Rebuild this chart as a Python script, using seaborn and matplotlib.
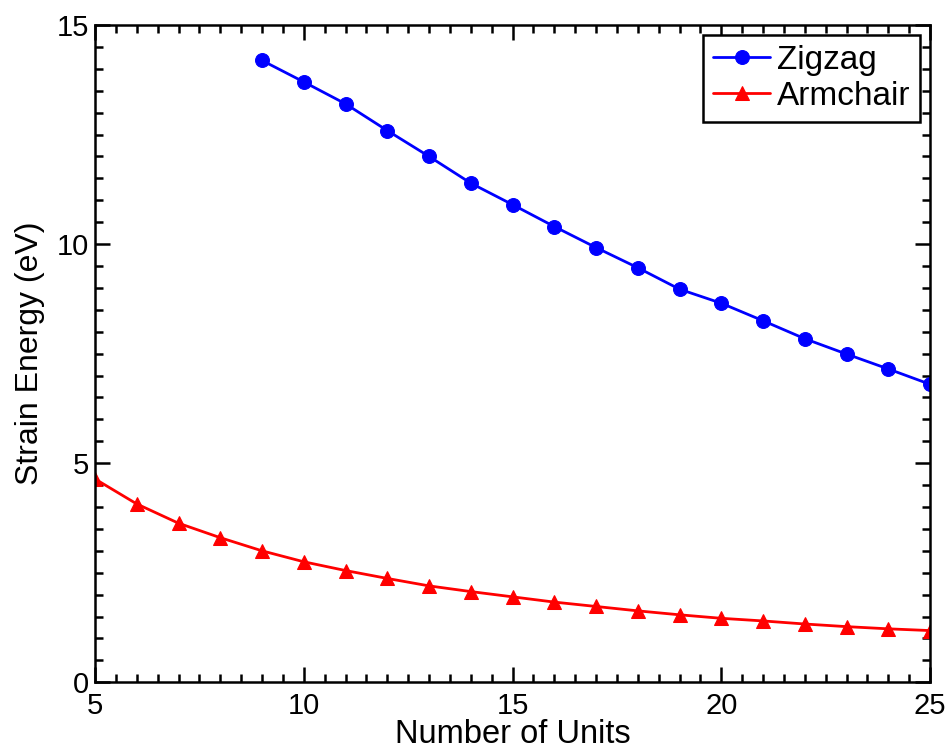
import numpy as np
import pandas as pd
import matplotlib
matplotlib.use("Agg")
import matplotlib.pyplot as plt
import seaborn as sns
from matplotlib.ticker import MultipleLocator

# -------------------------------
# Data
# -------------------------------
zigzag_units = [9, 10, 11, 12, 13, 14, 15, 16, 17, 18, 19, 20, 21, 22, 23, 24, 25]
zigzag_energy = [14.19, 13.70, 13.20, 12.59, 12.00, 11.39, 10.90, 10.40, 9.92,
                 9.46, 8.97, 8.65, 8.25, 7.84, 7.49, 7.15, 6.80]

armchair_units = list(range(5, 26))
armchair_energy = [4.64, 4.07, 3.63, 3.30, 3.00, 2.75, 2.55, 2.37, 2.20, 2.07,
                   1.95, 1.83, 1.73, 1.63, 1.54, 1.46, 1.40, 1.33, 1.27, 1.22, 1.18]

zig = pd.DataFrame({"Units": zigzag_units, "Energy": zigzag_energy})
arm = pd.DataFrame({"Units": armchair_units, "Energy": armchair_energy})

# -------------------------------
# Style
# -------------------------------
sns.set_style("ticks")
plt.rcParams["font.family"] = ["Liberation Sans", "DejaVu Sans"]
plt.rcParams["text.color"] = "black"
plt.rcParams["axes.labelcolor"] = "black"
plt.rcParams["xtick.color"] = "black"
plt.rcParams["ytick.color"] = "black"

fig = plt.figure(figsize=(9.5, 7.56), dpi=100)
ax = fig.add_axes([0.1, 0.0975, 0.879, 0.8695])

sns.lineplot(data=zig, x="Units", y="Energy", ax=ax, color="#0000ff",
             marker="o", markersize=10, markeredgecolor="#0000ff",
             linewidth=2, label="Zigzag")
sns.lineplot(data=arm, x="Units", y="Energy", ax=ax, color="#ff0000",
             marker="^", markersize=10, markeredgecolor="#ff0000",
             linewidth=2, label="Armchair")

ax.set_xlim(5, 25)
ax.set_ylim(0, 15)
ax.xaxis.set_major_locator(MultipleLocator(5))
ax.xaxis.set_minor_locator(MultipleLocator(0.5))
ax.yaxis.set_major_locator(MultipleLocator(5))
ax.yaxis.set_minor_locator(MultipleLocator(0.5))

ax.tick_params(which="both", direction="in", top=True, right=True,
               color="black", width=1.8, labelsize=21)
ax.tick_params(axis="x", which="major", pad=7)
ax.tick_params(axis="y", which="major", pad=4)
ax.tick_params(which="major", length=11)
ax.tick_params(which="minor", length=5.5)

for sp in ax.spines.values():
    sp.set_visible(True)
    sp.set_color("black")
    sp.set_linewidth(1.8)

ax.set_xlabel("Number of Units", fontsize=23.5, labelpad=-1)
ax.set_ylabel("Strain Energy (eV)", fontsize=23, labelpad=9)

leg = ax.legend(loc="upper right", fontsize=24, frameon=True, fancybox=False,
                edgecolor="black", framealpha=1, borderpad=0.3,
                handlelength=1.7, handletextpad=0.2, labelspacing=0.15,
                borderaxespad=0.3)
leg.get_frame().set_linewidth(1.8)

fig.savefig("out.png", dpi=100)
